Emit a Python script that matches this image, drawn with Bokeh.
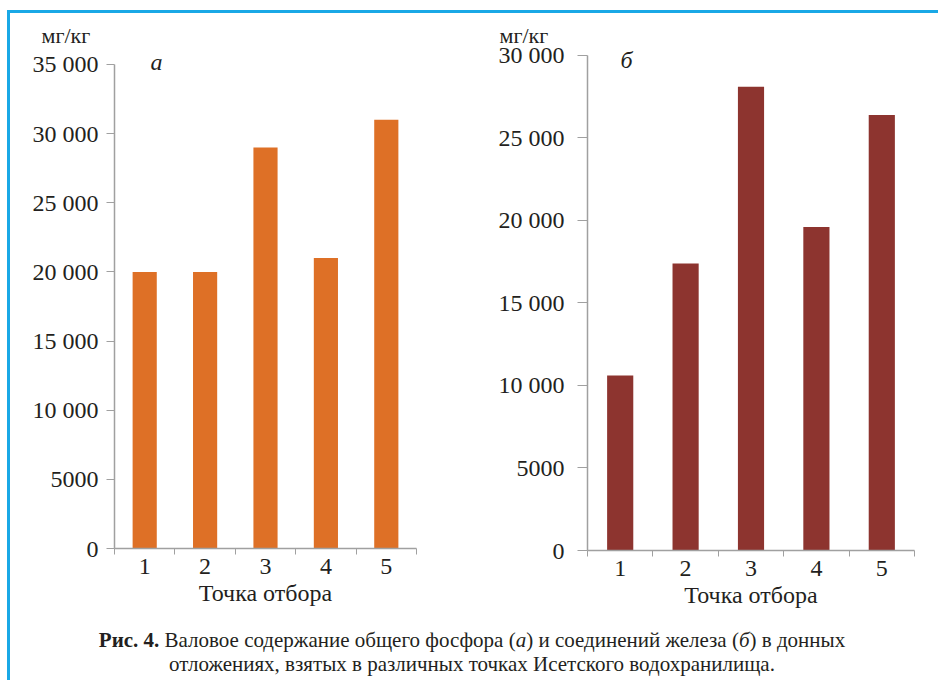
from bokeh.plotting import figure
from bokeh.models import FixedTicker, Label, Div, Range1d, Title
from bokeh.layouts import row, column
from bokeh.embed import file_html
from bokeh.resources import INLINE

# Sampling points and measured contents, mg/kg
points = ["1", "2", "3", "4", "5"]
phosphorus = [20000, 20000, 29000, 21000, 31000]
iron = [10600, 17400, 28100, 19600, 26400]
ticks_a = [0, 5000, 10000, 15000, 20000, 25000, 30000, 35000]
ticks_b = [0, 5000, 10000, 15000, 20000, 25000, 30000]
unit = "мг/кг"
x_title = "Точка отбора"
letter_a = "а"
letter_b = "б"

SERIF = "Liberation Serif"
INK = "#231f20"
AXIS = "#a0a0a0"
FRAME_BLUE = "#19a8e6"


def fmt(v):
    return str(v) if v < 10000 else f"{v:,}".replace(",", " ")


def panel(values, ticks, color, letter, width, height, borders, y_end, tick_out,
          ystandoff, letter_pos, unit_offset):
    left, right, top, bottom = borders
    n = len(values)
    p = figure(width=width, height=height, output_backend="svg", toolbar_location=None,
               x_range=Range1d(0.5, n + 0.5), y_range=Range1d(0, y_end),
               min_border_left=left, min_border_right=right,
               min_border_top=top, min_border_bottom=bottom)
    xs = list(range(1, n + 1))
    p.vbar(x=xs, top=values, width=0.4, fill_color=color, line_color=None)

    p.grid.visible = False
    p.outline_line_color = None
    p.background_fill_color = "white"
    p.border_fill_color = "white"

    xa = p.xaxis[0]
    xa.ticker = FixedTicker(ticks=xs, minor_ticks=[i + 0.5 for i in range(n + 1)])
    xa.major_label_overrides = {x: lab for x, lab in zip(xs, points)}
    xa.major_tick_out = 0
    xa.major_tick_in = 0
    xa.minor_tick_out = 6
    xa.minor_tick_in = 0
    xa.minor_tick_line_color = AXIS
    xa.axis_line_color = AXIS
    xa.axis_line_width = 1.5
    xa.major_label_text_font = SERIF
    xa.major_label_text_font_size = "24px"
    xa.major_label_text_color = INK
    xa.major_label_standoff = 4
    xa.axis_label = x_title
    xa.axis_label_text_font = SERIF
    xa.axis_label_text_font_size = "24px"
    xa.axis_label_text_font_style = "normal"
    xa.axis_label_text_color = INK
    xa.axis_label_standoff = 3

    ya = p.yaxis[0]
    ya.ticker = FixedTicker(ticks=ticks, minor_ticks=[])
    ya.bounds = (0, ticks[-1])
    ya.major_label_overrides = {t: fmt(t) for t in ticks}
    ya.major_tick_out = tick_out
    ya.major_tick_in = 0
    ya.major_tick_line_color = AXIS
    ya.axis_line_color = AXIS
    ya.axis_line_width = 1.5
    ya.major_label_text_font = SERIF
    ya.major_label_text_font_size = "24px"
    ya.major_label_text_color = INK
    ya.major_label_standoff = ystandoff

    p.add_layout(Label(x=letter_pos[0], y=letter_pos[1], text=letter,
                       text_font=SERIF, text_font_style="italic", text_font_size="24px",
                       text_color=INK, text_align="center", text_baseline="middle"))
    p.add_layout(Title(text=unit, align="left", offset=unit_offset, standoff=2,
                       text_font=SERIF, text_font_size="22px", text_font_style="normal",
                       text_color=INK), "above")
    return p


pa = panel(phosphorus, ticks_a, "#de7026", letter_a, 460, 600, (104, 54, 35, 65), 36157,
           8, 8, (1.195, 35216), -73)
pb = panel(iron, ticks_b, "#8d342f", letter_b, 468, 602, (117, 24, 35, 62), 30423,
           10, 13, (1.096, 29698), -88)

caption = Div(
    text=(
        '<div style="font-family:\'Liberation Serif\',serif;font-size:21px;line-height:24px;'
        'color:#231f20;text-align:center;width:914px;padding-top:8px;">'
        '<b>Рис. 4.</b> Валовое содержание общего фосфора (<i>а</i>) и соединений железа '
        '(<i>б</i>) в донных<br>отложениях, взятых в различных точках Исетского водохранилища.'
        '</div>'
    ),
    width=914, height=62,
)

layout = column(
    row(pa, pb),
    caption,
    margin=(10, 0, 0, 7),
    styles={"border-top": f"3px solid {FRAME_BLUE}", "border-left": f"3px solid {FRAME_BLUE}"},
)

open("out.html", "w").write(file_html(layout, INLINE))
